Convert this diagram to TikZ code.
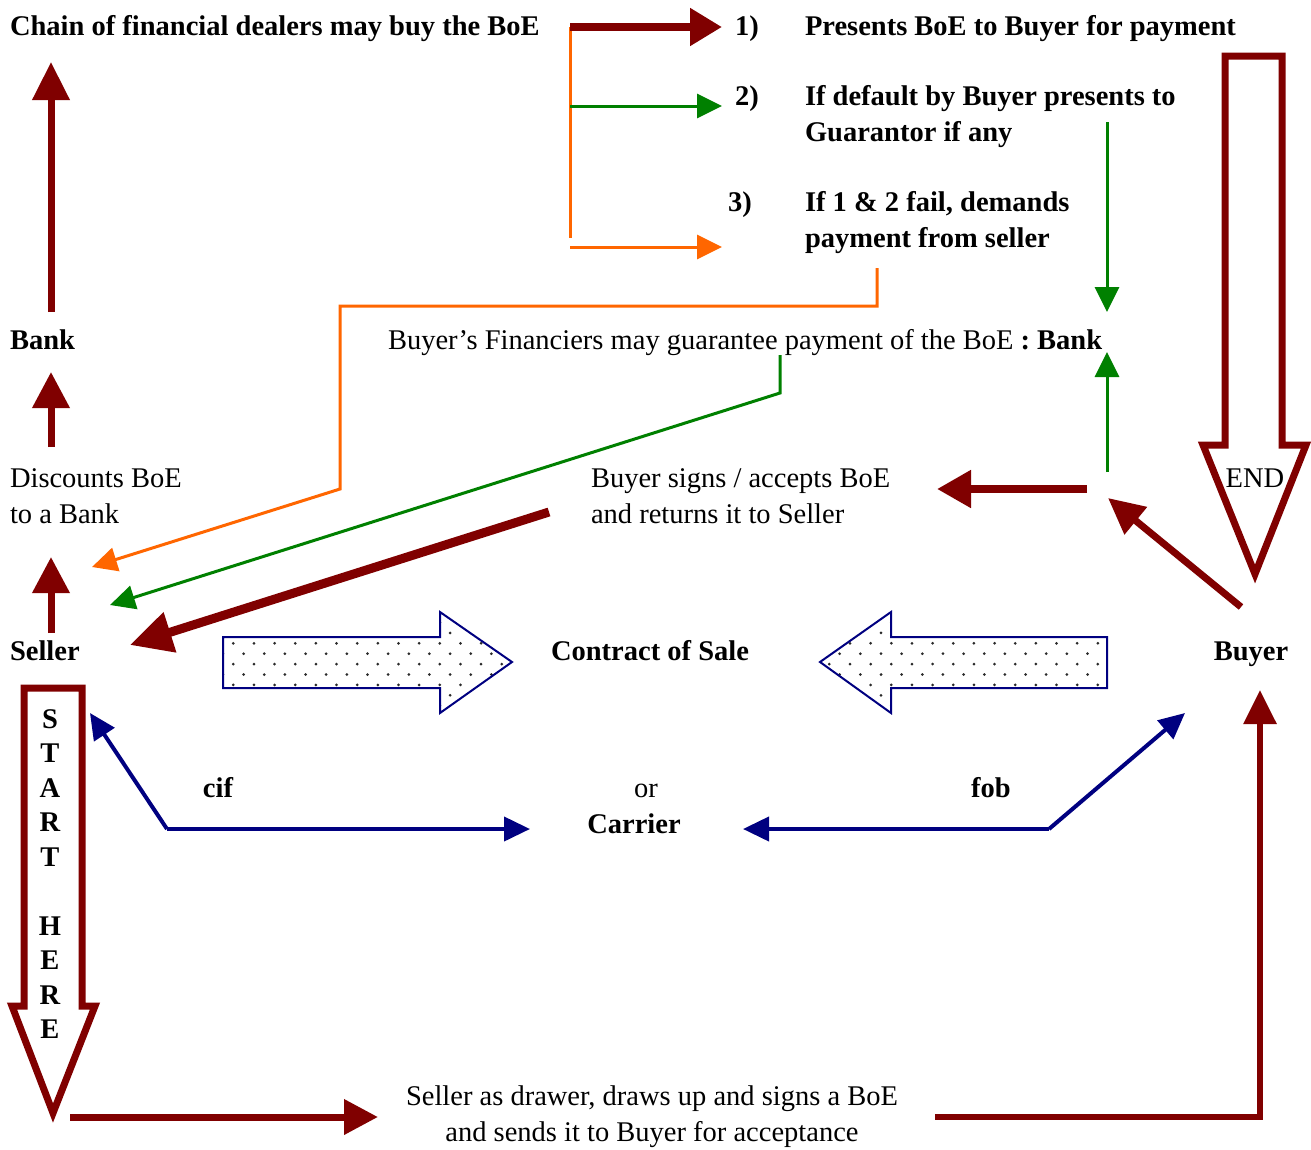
\documentclass[tikz,border=0pt]{standalone}
\usepackage{tikz}
\usetikzlibrary{arrows.meta}
\usepackage{fontspec}
\setmainfont{Liberation Serif}
\definecolor{boered}{HTML}{800000}
\definecolor{boenavy}{HTML}{000080}
\definecolor{boegreen}{HTML}{008000}
\definecolor{boeorange}{HTML}{FF6600}
\definecolor{dotgray}{HTML}{2A2A2A}

\newcommand\txtfont{\fontsize{28.5}{36}\selectfont}

\begin{document}
\begin{tikzpicture}[x=1pt,y=-1pt,
  every node/.style={inner sep=0pt,outer sep=0pt},
  lbl/.style={font=\txtfont,anchor=base west},
  clbl/.style={font=\txtfont,anchor=base},
  redflow/.style={draw=boered,line width=7pt,-{Triangle[length=36pt,width=36pt]}},
  greenflow/.style={draw=boegreen,line width=3pt,-{Triangle[length=25pt,width=24pt]}},
  orangeflow/.style={draw=boeorange,line width=3pt,-{Triangle[length=25pt,width=24pt]}},
  navyflow/.style={draw=boenavy,line width=4pt,-{Triangle[length=26pt,width=24pt]}},
  bigarrow/.style={draw=boered,line width=7pt,fill=white,line join=miter},
  dotarrow/.style={draw=boenavy,line width=2pt,line join=miter},
]
\useasboundingbox (0,0) rectangle (1311,1149);

% ---------- labels ----------
\node[lbl] (chain) at (10,35) {\bfseries Chain of financial dealers may buy the BoE};
\node[lbl] (n1) at (735,35) {\bfseries 1)};
\node[lbl] (present) at (805,35) {\bfseries Presents BoE to Buyer for payment};
\node[lbl] (n2) at (735,105) {\bfseries 2)};
\node[lbl] (default) at (805,105) {\bfseries\begin{tabular}[t]{@{}l@{}}If default by Buyer presents to\\Guarantor if any\end{tabular}};
\node[lbl] (n3) at (728,211) {\bfseries 3)};
\node[lbl] (fail) at (805,211) {\bfseries\begin{tabular}[t]{@{}l@{}}If 1 \& 2 fail, demands\\payment from seller\end{tabular}};
\node[lbl] (bank) at (10,349) {\bfseries Bank};
\node[lbl] (financiers) at (388,349) {Buyer’s Financiers may guarantee payment of the BoE \textbf{: Bank}};
\node[lbl] (discounts) at (10,487) {\begin{tabular}[t]{@{}l@{}}Discounts BoE\\to a Bank\end{tabular}};
\node[lbl] (accepts) at (591,487) {\begin{tabular}[t]{@{}l@{}}Buyer signs / accepts BoE\\and returns it to Seller\end{tabular}};
\node[lbl] (seller) at (10,660) {\bfseries Seller};
\node[clbl] (contract) at (650,660) {\bfseries Contract of Sale};
\node[clbl] (buyer) at (1251,660) {\bfseries Buyer};
\node[clbl] (cif) at (218,797) {\bfseries cif};
\node[clbl] (or) at (646,797) {or};
\node[clbl] (carrier) at (634,833) {\bfseries Carrier};
\node[clbl] (fob) at (991,797) {\bfseries fob};
\node[clbl] (drawer) at (652,1105) {\begin{tabular}[t]{@{}c@{}}Seller as drawer, draws up and signs a BoE\\and sends it to Buyer for acceptance\end{tabular}};

% ---------- connector end points ----------
\coordinate (fork) at (570,27);
\coordinate (forkend) at (570,238);
\coordinate (t1) at (722,27);
\coordinate (g0) at (570,106);
\coordinate (t2) at (722,106);
\coordinate (o0) at (570,247);
\coordinate (t3) at (722,247);
\coordinate (gdown0) at (1107,122);
\coordinate (gdown1) at (1107,312);
\coordinate (gup0) at (1107,472);
\coordinate (gup1) at (1107,352);
\coordinate (gg0) at (780,355);
\coordinate (gg1) at (780,393);
\coordinate (gg2) at (110,605);
\coordinate (oo0) at (877,268);
\coordinate (oo1) at (877,306);
\coordinate (oo2) at (340,306);
\coordinate (oo3) at (340,489);
\coordinate (oo4) at (92,567);
\coordinate (bankup0) at (51,312);
\coordinate (bankup1) at (51,62);
\coordinate (disc0) at (51,447);
\coordinate (disc1) at (51,372);
\coordinate (sel0) at (51,633);
\coordinate (sel1) at (51,557);
\coordinate (acc0) at (1087,489);
\coordinate (acc1) at (937,489);
\coordinate (buy0) at (1241,607);
\coordinate (buy1) at (1108,498);
\coordinate (ret0) at (549,512);
\coordinate (ret1) at (130,645);
\coordinate (draw0) at (70,1117);
\coordinate (draw1) at (378,1117);
\coordinate (send0) at (935,1117);
\coordinate (send1) at (1260,1117);
\coordinate (send2) at (1260,690);
\coordinate (cifc) at (167,829);
\coordinate (cif1) at (90,713);
\coordinate (cif2) at (530,829);
\coordinate (fobc) at (1049,829);
\coordinate (fob1) at (1185,713);
\coordinate (fob2) at (743,829);

% ---------- dotted contract arrows ----------
\begin{scope}
  \clip (223,637) -- (440,637) -- (440,612) -- (512,662) -- (440,713) -- (440,688) -- (223,688) -- cycle;
  \foreach \k in {-3,...,6} {
    \pgfmathsetmacro\yy{643.3+10.4*\k}
    \pgfmathsetmacro\xo{233.3+10.3*mod(abs(\k),2)}
    \foreach \j in {-1,...,14}
      \fill[dotgray] (\xo+20.65*\j,\yy) circle[radius=1.5];
  }
\end{scope}
\draw[dotarrow] (223,637) -- (440,637) -- (440,612) -- (512,662) -- (440,713) -- (440,688) -- (223,688) -- cycle;
\begin{scope}
  \clip (1107,637) -- (891,637) -- (891,612) -- (820,662) -- (891,713) -- (891,688) -- (1107,688) -- cycle;
  \foreach \k in {-3,...,6} {
    \pgfmathsetmacro\yy{643.3+10.4*\k}
    \pgfmathsetmacro\xo{850-10.3*mod(abs(\k),2)}
    \foreach \j in {-2,...,14}
      \fill[dotgray] (\xo+20.65*\j,\yy) circle[radius=1.5];
  }
\end{scope}
\draw[dotarrow] (1107,637) -- (891,637) -- (891,612) -- (820,662) -- (891,713) -- (891,688) -- (1107,688) -- cycle;

% ---------- orange: recourse against the seller ----------
\draw[boeorange,line width=3pt] (fork) -- (forkend);
\draw[orangeflow] (o0) -- (t3);
\draw[orangeflow] (oo0) -- (oo1) -- (oo2) -- (oo3) -- (oo4);

% ---------- green: guarantor ----------
\draw[greenflow] (g0) -- (t2);
\draw[greenflow] (gdown0) -- (gdown1);
\draw[greenflow] (gup0) -- (gup1);
\draw[greenflow] (gg0) -- (gg1) -- (gg2);

% ---------- navy: cif / fob carrier ----------
\draw[navyflow] (cifc) -- (cif1);
\draw[navyflow] (cifc) -- (cif2);
\draw[navyflow] (fobc) -- (fob1);
\draw[navyflow] (fobc) -- (fob2);

% ---------- dark red: bill of exchange flow ----------
\draw[redflow,line width=8pt,-{Triangle[length=32pt,width=36pt]}] (fork) -- (t1);
\draw[redflow,-{Triangle[length=38pt,width=36pt]}] (bankup0) -- (bankup1);
\draw[redflow] (disc0) -- (disc1);
\draw[redflow] (sel0) -- (sel1);
\draw[redflow,line width=8pt,-{Triangle[length=34pt,width=36pt]}] (acc0) -- (acc1);
\draw[redflow,-{Triangle[length=36pt,width=34pt]}] (buy0) -- (buy1);
\draw[redflow,line width=9pt,-{Triangle[length=42pt,width=40pt]}] (ret0) -- (ret1);
\draw[redflow,-{Triangle[length=34pt,width=34pt]}] (draw0) -- (draw1);
\draw[redflow,line width=6pt,-{Triangle[length=34pt,width=32pt]}] (send0) -- (send1) -- (send2);

% ---------- start and end arrows ----------
\draw[bigarrow] (24,688) -- (82,688) -- (82,1006) -- (95,1006) -- (53,1113) -- (12,1006) -- (24,1006) -- cycle;
\node[font=\fontsize{28.5}{34.5}\selectfont\bfseries,anchor=base] (start) at (50,728)
  {\begin{tabular}[t]{@{}c@{}}S\\T\\A\\R\\T\\ \\H\\E\\R\\E\end{tabular}};
\draw[bigarrow] (1225,56) -- (1282,56) -- (1282,445) -- (1306,445) -- (1255,574) -- (1203,445) -- (1225,445) -- cycle;
\node[clbl] (end) at (1255,487) {END};
\end{tikzpicture}
\end{document}
